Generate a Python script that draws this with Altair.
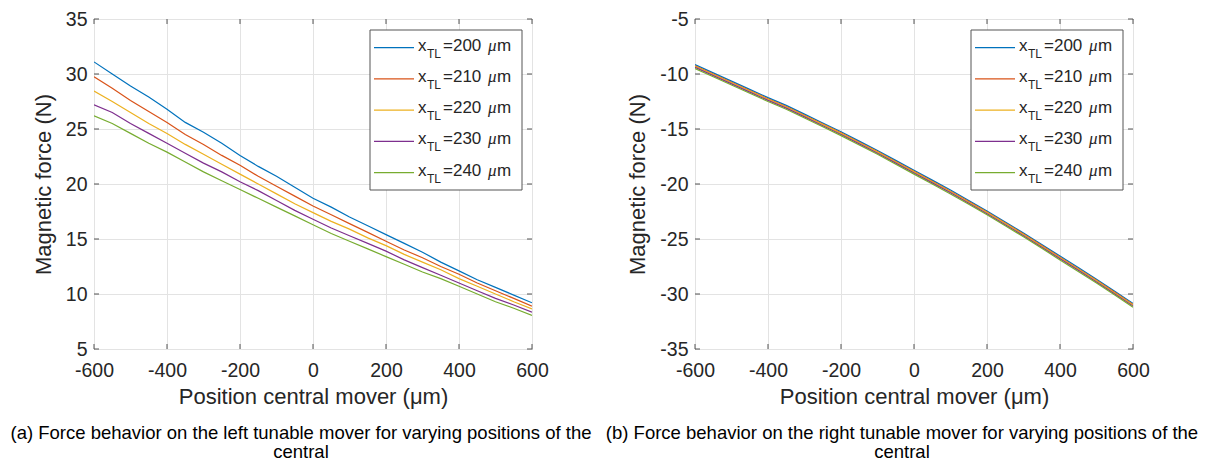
import altair as alt
import pandas as pd

# ---------------- data ----------------
positions = [-600, -550, -500, -450, -400, -350, -300, -250, -200, -150, -100, -50,
             0, 50, 100, 150, 200, 250, 300, 350, 400, 450, 500, 550, 600]
series_labels = ["200", "210", "220", "230", "240"]
colors = ["#0072BD", "#D95319", "#EDB120", "#7E2F8E", "#77AC30"]

left_200 = [31.1, 30.0, 28.9, 27.9, 26.8, 25.6, 24.7, 23.7, 22.6, 21.6, 20.7, 19.7,
            18.7, 17.9, 17.0, 16.2, 15.4, 14.6, 13.8, 12.9, 12.1, 11.3, 10.6, 9.9, 9.2]
left_210 = [29.75, 28.7, 27.6, 26.6, 25.6, 24.5, 23.6, 22.6, 21.7, 20.7, 19.8, 18.9,
            18.0, 17.2, 16.4, 15.6, 14.8, 14.0, 13.3, 12.5, 11.8, 11.0, 10.3, 9.6, 8.9]
left_220 = [28.45, 27.5, 26.5, 25.5, 24.6, 23.6, 22.7, 21.8, 20.9, 20.0, 19.1, 18.2,
            17.4, 16.6, 15.9, 15.1, 14.4, 13.6, 12.9, 12.2, 11.4, 10.7, 10.0, 9.3, 8.65]
left_230 = [27.2, 26.5, 25.5, 24.6, 23.7, 22.8, 21.9, 21.1, 20.2, 19.4, 18.5, 17.6,
            16.8, 16.0, 15.3, 14.6, 13.9, 13.1, 12.4, 11.7, 11.0, 10.3, 9.6, 9.0, 8.35]
left_240 = [26.2, 25.5, 24.6, 23.7, 22.9, 22.0, 21.1, 20.3, 19.5, 18.7, 17.9, 17.1,
            16.3, 15.5, 14.8, 14.1, 13.4, 12.7, 12.0, 11.4, 10.7, 10.0, 9.3, 8.7, 8.05]

right_200 = [-9.15, -9.9, -10.65, -11.4, -12.15, -12.85, -13.65, -14.45, -15.25, -16.1, -16.95, -17.85,
             -18.75, -19.65, -20.55, -21.5, -22.45, -23.45, -24.45, -25.5, -26.55, -27.6, -28.65, -29.75, -30.85]
right_210 = [-9.25, -10.0, -10.75, -11.5, -12.25, -12.95, -13.75, -14.55, -15.35, -16.2, -17.05, -17.95,
             -18.85, -19.75, -20.65, -21.6, -22.55, -23.55, -24.55, -25.6, -26.65, -27.7, -28.75, -29.85, -30.95]
right_220 = [-9.3, -10.05, -10.8, -11.55, -12.3, -13.0, -13.8, -14.6, -15.4, -16.25, -17.1, -18.0,
             -18.9, -19.8, -20.7, -21.65, -22.6, -23.6, -24.6, -25.65, -26.7, -27.75, -28.8, -29.9, -31.0]
right_230 = [-9.4, -10.15, -10.9, -11.65, -12.4, -13.1, -13.9, -14.7, -15.5, -16.35, -17.2, -18.1,
             -19.0, -19.9, -20.8, -21.75, -22.7, -23.7, -24.7, -25.75, -26.8, -27.85, -28.9, -30.0, -31.1]
right_240 = [-9.5, -10.25, -11.0, -11.75, -12.5, -13.2, -14.0, -14.8, -15.6, -16.45, -17.3, -18.2,
             -19.1, -20.0, -20.9, -21.85, -22.8, -23.8, -24.8, -25.85, -26.9, -27.95, -29.0, -30.1, -31.2]

x_ticks = [-600, -400, -200, 0, 200, 400, 600]
left_y_ticks = [5, 10, 15, 20, 25, 30, 35]
right_y_ticks = [-35, -30, -25, -20, -15, -10, -5]

x_title = "Position central mover (μm)"
y_title = "Magnetic force (N)"
caption_a = ["(a) Force behavior on the left tunable mover for varying positions of the", "central"]
caption_b = ["(b) Force behavior on the right tunable mover for varying positions of the", "central"]

# ---------------- style ----------------
W, H = 438, 330
FONT = "Liberation Sans"
AX = "#555555"
TXT = "#262626"
GRID = "#e3e3e3"
TICK = 5
LABEL_EXPR = "datum.value < 0 ? '-' + abs(datum.value) : '' + datum.value"

color_scale = alt.Scale(domain=series_labels, range=colors)


def long_df(series):
    rows = []
    for lab, vals in zip(series_labels, series):
        for p, v in zip(positions, vals):
            rows.append({"pos": p, "force": v, "xtl": lab})
    return pd.DataFrame(rows)


X_AXIS = alt.Axis(
    values=x_ticks, title=x_title, grid=True, gridColor=GRID, ticks=False, tickSize=0,
    domain=False, labelFontSize=19.5, labelFont=FONT, labelColor=TXT, labelPadding=12,
    labelExpr=LABEL_EXPR, labelFlush=False,
    titleFont=FONT, titleFontSize=22, titleFontWeight="normal", titleColor=TXT,
    titlePadding=7)


def panel(series, ydom, yticks, caption):
    df = long_df(series)
    xs = alt.Scale(domain=[-600, 600], nice=False, zero=False)
    ys = alt.Scale(domain=ydom, nice=False, zero=False)

    lines = alt.Chart(df).mark_line(strokeWidth=1.2, clip=True).encode(
        x=alt.X("pos:Q", scale=xs, axis=X_AXIS, title=x_title),
        y=alt.Y("force:Q", scale=ys, axis=alt.Axis(
            values=yticks, title=y_title, grid=True, gridColor=GRID, ticks=False, tickSize=0,
            domain=False, labelFontSize=19.5, labelFont=FONT, labelColor=TXT, labelPadding=7,
            labelExpr=LABEL_EXPR, labelFlush=False,
            titleFont=FONT, titleFontSize=22, titleFontWeight="normal", titleColor=TXT,
            titlePadding=10)),
        color=alt.Color("xtl:N", scale=color_scale, legend=None),
    )

    xt = pd.DataFrame({"t": x_ticks})
    yt = pd.DataFrame({"v": yticks})
    tx = alt.X("t:Q", scale=xs, axis=X_AXIS, title=x_title)
    ty = alt.Y("v:Q", scale=ys, axis=None)
    bottom_ticks = alt.Chart(xt).mark_rule(color=AX, strokeWidth=1).encode(
        x=tx, y=alt.value(H), y2=alt.value(H - TICK))
    top_ticks = alt.Chart(xt).mark_rule(color=AX, strokeWidth=1).encode(
        x=tx, y=alt.value(0), y2=alt.value(TICK))
    left_ticks = alt.Chart(yt).mark_rule(color=AX, strokeWidth=1).encode(
        y=ty, x=alt.value(0), x2=alt.value(TICK))
    right_ticks = alt.Chart(yt).mark_rule(color=AX, strokeWidth=1).encode(
        y=ty, x=alt.value(W), x2=alt.value(W - TICK))

    # legend (drawn by hand to allow the subscript)
    leg = pd.DataFrame({"xtl": series_labels, "row": list(range(len(series_labels)))})
    ly = alt.Y("row:Q", scale=alt.Scale(domain=[0, 4], range=[28.7, 153.7]), axis=None)
    box = alt.Chart(pd.DataFrame({"a": [0]})).mark_rect(
        fill="white", stroke=AX, strokeWidth=1).encode(
        x=alt.value(276), x2=alt.value(428), y=alt.value(11), y2=alt.value(171))
    leg_lines = alt.Chart(leg).mark_rule(strokeWidth=1.2).encode(
        x=alt.value(280), x2=alt.value(320), y=ly,
        color=alt.Color("xtl:N", scale=color_scale, legend=None))
    t_x = alt.Chart(leg).mark_text(align="left", baseline="middle", fontSize=17, font=FONT,
                                   color=TXT, dy=-2).encode(
        x=alt.value(324), y=ly, text=alt.value("x"))
    t_sub = alt.Chart(leg).mark_text(align="left", baseline="middle", fontSize=12, font=FONT,
                                     color=TXT, dy=6).encode(
        x=alt.value(333), y=ly, text=alt.value("TL"))
    t_eq = alt.Chart(leg).transform_calculate(eq="'=' + datum.xtl").mark_text(
        align="left", baseline="middle", fontSize=17, font=FONT, color=TXT, dy=-2).encode(
        x=alt.value(349), y=ly, text="eq:N")
    t_mu = alt.Chart(leg).mark_text(align="left", baseline="middle", fontSize=17,
                                    font="Liberation Serif", fontStyle="italic",
                                    color=TXT, dy=-2).encode(
        x=alt.value(394), y=ly, text=alt.value("μ"))
    t_m = alt.Chart(leg).mark_text(align="left", baseline="middle", fontSize=17, font=FONT,
                                   color=TXT, dy=-2).encode(
        x=alt.value(403), y=ly, text=alt.value("m"))

    return alt.layer(
        lines, bottom_ticks, top_ticks, left_ticks, right_ticks,
        box, leg_lines, t_x, t_sub, t_eq, t_mu, t_m
    ).resolve_scale(y="independent").properties(
        width=W, height=H,
        title=alt.TitleParams(text=caption, orient="bottom", anchor="middle", frame="group",
                              dx=-12, fontSize=18.5, font=FONT, fontWeight="normal",
                              color="black", offset=16, lineHeight=19),
    )


left = panel([left_200, left_210, left_220, left_230, left_240], [5, 35], left_y_ticks, caption_a)
right = panel([right_200, right_210, right_220, right_230, right_240], [-35, -5], right_y_ticks, caption_b)

chart = alt.hconcat(left, right, spacing=163, bounds="flush").properties(
    padding={"left": 2, "top": 0, "right": 2, "bottom": 0},
    background="white",
).configure_view(stroke=AX, strokeWidth=1)

chart.save("out.html", embed_options={"renderer": "svg", "actions": False})
